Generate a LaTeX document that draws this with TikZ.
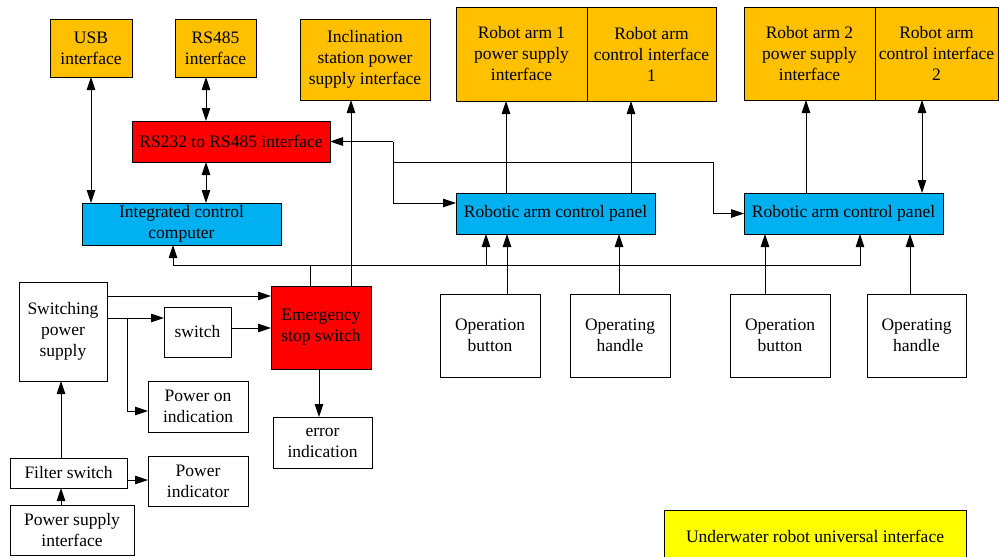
\documentclass[tikz,border=0pt]{standalone}
\usepackage{fontspec}
\setmainfont{Liberation Serif}
\usetikzlibrary{arrows.meta}
\definecolor{org}{HTML}{FFC000}
\definecolor{redb}{HTML}{FF0000}
\definecolor{blu}{HTML}{00B0F0}
\definecolor{yel}{HTML}{FFFF00}
\tikzset{
  box/.style={draw, line width=0.9pt, inner sep=0pt, outer sep=0pt, align=center,
    font=\fontsize{17.5}{21}\selectfont},
  wh/.style 2 args={minimum width=#1pt, minimum height=#2pt},
  ln/.style={line width=0.9pt},
  arr/.style={ln, -{Triangle[length=13pt,width=8.5pt]}},
  darr/.style={ln, {Triangle[length=13pt,width=8.5pt]}-{Triangle[length=13pt,width=8.5pt]}},
}
\begin{document}
\begin{tikzpicture}[x=1pt,y=-1pt]
\useasboundingbox (0,0) rectangle (999,557);
% top interfaces
\node[box, fill=org, wh={82}{58}] (usb) at (91,48) {USB\\interface};
\node[box, fill=org, wh={81}{58}] (rs485) at (215.5,48) {RS485\\interface};
\node[box, fill=org, wh={130}{81}] (incl) at (365,59.5) {Inclination\\station power\\supply interface};
\node[box, fill=redb, wh={198}{41}] (rs232) at (231,141.5) {RS232 to RS485 interface};
\node[box, fill=blu, wh={199}{42}] (icc) at (181.5,224) {Integrated control\\computer};
\node[box, fill=org, wh={131}{94}] (ra1p) at (521.5,54) {Robot arm 1\\power supply\\interface};
\node[box, fill=org, wh={129}{94}] (ra1c) at (651.5,54) {Robot arm\\control interface\\1};
\node[box, fill=org, wh={131}{93}] (ra2p) at (809.5,53.5) {Robot arm 2\\power supply\\interface};
\node[box, fill=org, wh={123}{93}] (ra2c) at (936.5,53.5) {Robot arm\\control interface\\2};
\node[box, fill=blu, wh={199}{41}] (p1) at (555.5,213.5) {Robotic arm control panel};
\node[box, fill=blu, wh={199}{41}] (p2) at (843.5,213.5) {Robotic arm control panel};
\node[box, wh={100}{83}] (ob1) at (490,335.5) {Operation\\button};
\node[box, wh={100}{83}] (oh1) at (620,335.5) {Operating\\handle};
\node[box, wh={100}{83}] (ob2) at (780,335.5) {Operation\\button};
\node[box, wh={99}{83}] (oh2) at (916.5,335.5) {Operating\\handle};
\begin{scope}
\clip (0,0) rectangle (999,557);
\node[box, fill=yel, wh={302}{52}] (uw) at (815,536) {Underwater robot universal interface};
\end{scope}
% power part
\node[box, wh={88}{99}] (sps) at (63,331.5) {Switching\\power\\supply};
\node[box, wh={67}{50}] (sw) at (197.5,332) {switch};
\node[box, fill=redb, wh={100}{83}] (ess) at (321,327.5) {Emergency\\stop switch};
\node[box, wh={100}{51}] (pon) at (198,406.5) {Power on\\indication};
\node[box, wh={99}{51}] (err) at (322.5,442.5) {error\\indication};
\node[box, wh={117}{30}] (fs) at (68.5,473) {Filter switch};
\node[box, wh={100}{50}] (pi) at (198,481) {Power\\indicator};
\node[box, wh={124}{50}] (psi) at (72,530) {Power supply\\interface};
% coordinates
\coordinate (j1) at (393,141.5);
\coordinate (j2) at (393,162);
\coordinate (t2) at (713,162);
\coordinate (b0) at (173,265);
\coordinate (b1) at (860,265);
\coordinate (b2) at (486,265);
\coordinate (b3) at (310,265);
\coordinate (k1) at (127,318);
% connectors top
\draw[darr] (usb.south -| 91,0) -- (icc.north -| 91,0);
\draw[darr] (rs485.south -| 206,0) -- (rs232.north -| 206,0);
\draw[darr] (rs232.south -| 206,0) -- (icc.north -| 206,0);
\draw[arr] (j1) -- (rs232.east);
\draw[arr] (j1) |- ([yshift=10.5pt]p1.west);
\draw[arr] (j2) -- (t2) |- (p2.west);
\draw[arr] (b0) -- (icc.south -| b0);
\draw[arr] (b0) -- (b1) -- (p2.south -| b1);
\draw[arr] (b2) -- (p1.south -| b2);
\draw[ln] (ess.north -| b3) -- (b3);
\draw[arr] (ess.north -| 351,0) -- (incl.south -| 351,0);
\draw[arr] (p1.north -| 506,0) -- (ra1p.south -| 506,0);
\draw[arr] (p1.north -| 631,0) -- (ra1c.south -| 631,0);
\draw[arr] (p2.north -| 806,0) -- (ra2p.south -| 806,0);
\draw[darr] (p2.north -| 922,0) -- (ra2c.south -| 922,0);
\draw[arr] (ob1.north -| 507,0) -- (p1.south -| 507,0);
\draw[arr] (oh1.north -| 619,0) -- (p1.south -| 619,0);
\draw[arr] (ob2.north -| 765,0) -- (p2.south -| 765,0);
\draw[arr] (oh2.north -| 910,0) -- (p2.south -| 910,0);
% power connectors
\draw[arr] (sps.east |- 0,296) -- (ess.west |- 0,296);
\draw[arr] (sps.east |- k1) -- (sw.west |- k1);
\draw[arr] (k1) |- ([yshift=-4.5pt]pon.west);
\draw[arr] (sw.east |- 0,328) -- (ess.west |- 0,328);
\draw[arr] (ess.south -| 319,0) -- (err.north -| 319,0);
\draw[arr] (fs.north -| 61,0) -- (sps.south -| 61,0);
\draw[arr] (psi.north -| 61,0) -- (fs.south -| 61,0);
\draw[arr] (fs.east |- 0,480) -- (pi.west |- 0,480);
\end{tikzpicture}
\end{document}
